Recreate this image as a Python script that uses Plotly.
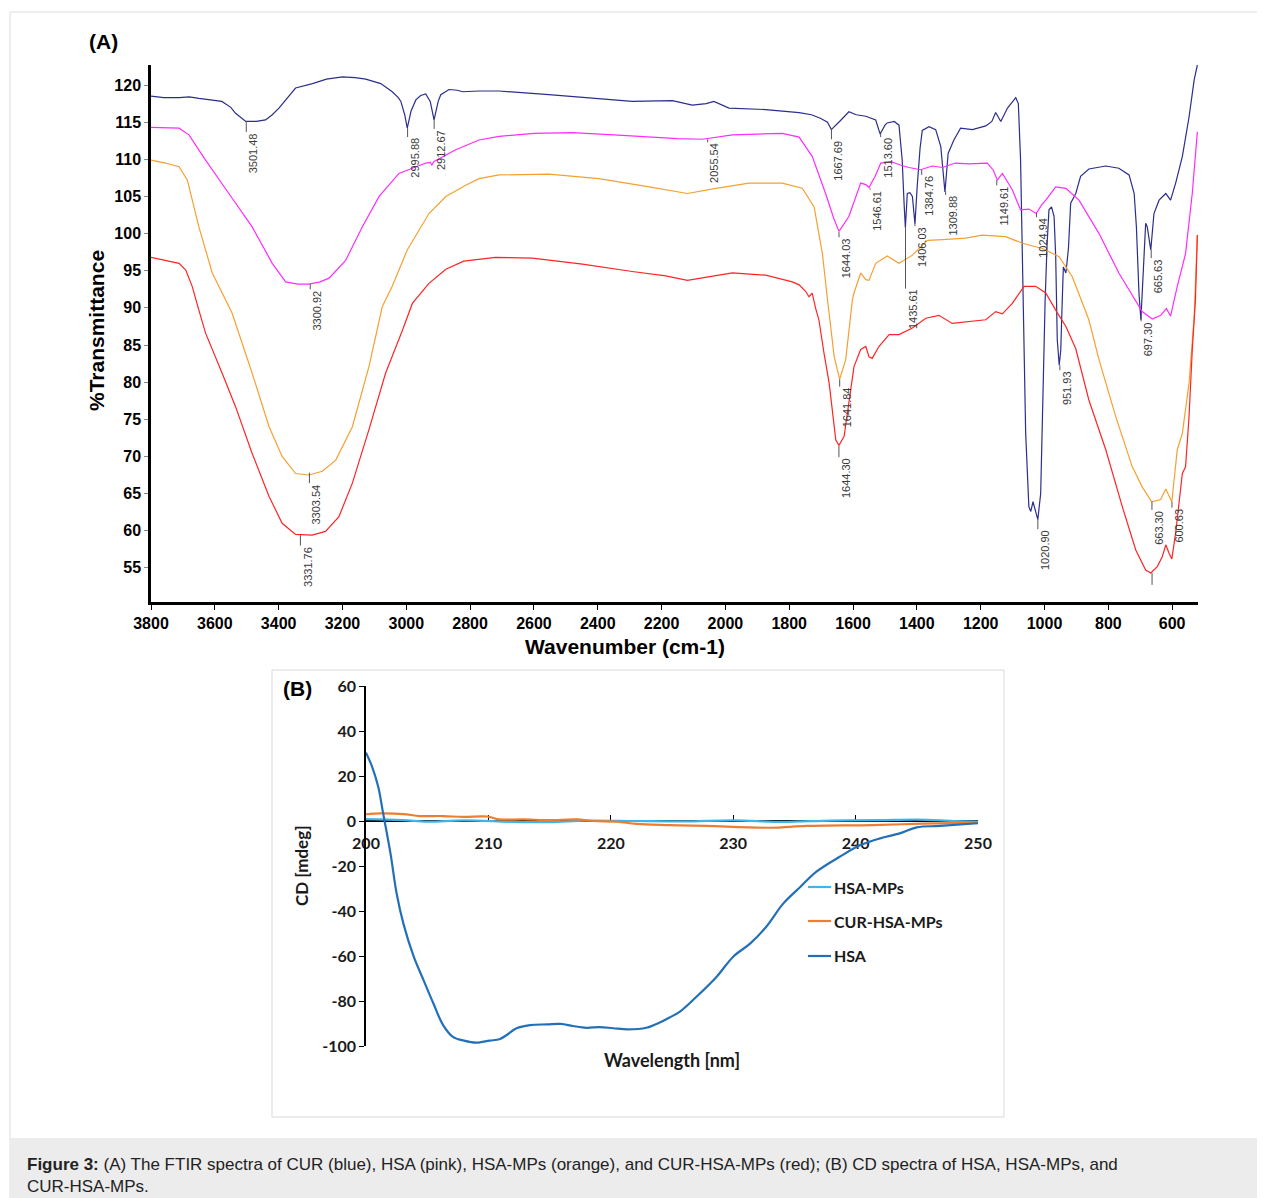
import plotly.graph_objects as go

# ---------------- Panel A : FTIR data ----------------
CUR_WN = [3800, 3760, 3712, 3680, 3650, 3610, 3578, 3550, 3535, 3503, 3470, 3441, 3420, 3399, 3370, 3347,
          3294, 3250, 3200, 3160, 3127, 3080, 3044, 3025, 3017, 3005, 2997, 2985, 2970, 2955, 2939, 2925,
          2913, 2900, 2892, 2866, 2840, 2824, 2772, 2709, 2553, 2396, 2292, 2166, 2104, 2060, 2036, 1989,
          1874, 1769, 1730, 1701, 1680, 1668, 1655, 1640, 1613, 1590, 1560, 1529, 1515, 1500, 1493, 1471,
          1456, 1446, 1440, 1436, 1430, 1422, 1414, 1406, 1399, 1390, 1383, 1362, 1341, 1325, 1312, 1302,
          1284, 1263, 1226, 1184, 1165, 1153, 1137, 1116, 1090, 1082, 1075, 1068, 1059, 1049, 1043, 1036,
          1030, 1021, 1012, 1004, 998, 992, 986, 978, 970, 965, 960, 954, 949, 946, 941, 933, 925, 918,
          902, 887, 861, 808, 767, 735, 719, 712, 704, 698, 691, 683, 678, 667, 657, 641, 620, 605, 589,
          568, 547, 531, 521]
CUR_T = [118.5, 118.3, 118.3, 118.4, 118.2, 118.0, 117.8, 117.0, 116.2, 115.1, 115.1, 115.3, 116.0, 116.9, 118.4, 119.6,
         120.2, 120.8, 121.1, 121.0, 120.8, 120.2, 119.1, 118.3, 117.8, 116.0, 114.2, 116.5, 118.0, 118.6, 118.8, 117.8,
         115.3, 117.8, 118.7, 119.4, 119.3, 119.1, 119.2, 119.2, 118.7, 118.1, 117.8, 117.9, 117.3, 117.5, 117.8, 116.9,
         116.7, 116.3, 116.0, 115.5, 115.0, 114.0, 114.5, 115.2, 116.4, 116.0, 115.8, 115.3, 113.4, 114.6, 114.9, 115.1,
         114.6, 109.9, 104.0, 100.8, 105.4, 105.5, 105.0, 101.3, 106.3, 111.5, 113.9, 114.4, 114.0, 111.7, 105.6, 110.8,
         112.6, 114.2, 114.0, 114.5, 115.1, 116.3, 115.1, 116.9, 118.3, 117.5, 109.9, 95.0, 73.1, 63.2, 62.6, 63.9,
         62.8, 61.5, 65.0, 82.1, 91.1, 98.5, 103.2, 103.6, 102.3, 97.0, 85.7, 82.3, 84.3, 88.8, 95.5, 94.7, 98.0, 104.1,
         105.4, 107.7, 108.7, 109.1, 108.8, 107.9, 105.4, 100.9, 92.0, 88.4, 95.5, 101.4, 100.9, 97.8, 102.7, 104.5, 105.4, 104.5, 106.8,
         110.4, 115.7, 120.7, 122.7]

HSA_WN = [3800, 3712, 3681, 3629, 3556, 3483, 3420, 3378, 3340, 3305, 3270, 3242, 3190, 3138, 3085, 3023,
          2981, 2939, 2925, 2920, 2913, 2876, 2845, 2772, 2709, 2600, 2480, 2350, 2239, 2150, 2072, 2030,
          1978, 1900, 1822, 1769, 1728, 1686, 1660, 1644, 1625, 1613, 1576, 1560, 1550, 1530, 1513, 1482,
          1450, 1425, 1388, 1352, 1320, 1279, 1237, 1179, 1160, 1148, 1132, 1101, 1075, 1060, 1049, 1026,
          1010, 996, 965, 933, 892, 829, 767, 694, 662, 636, 618, 605, 584, 558, 537, 521]
HSA_T = [114.3, 114.2, 113.3, 109.9, 105.4, 100.9, 96.0, 93.5, 93.2, 93.2, 93.5, 94.0, 96.4, 100.9, 105.0, 108.1,
         108.8, 109.5, 109.6, 109.2, 109.7, 110.6, 111.3, 112.6, 113.1, 113.5, 113.6, 113.3, 113.0, 112.8, 112.7, 113.0,
         113.3, 113.4, 113.5, 113.0, 110.4, 105.4, 102.0, 100.3, 101.5, 102.3, 106.8, 106.6, 106.2, 107.8, 109.5, 109.7,
         109.2, 108.9, 108.6, 109.1, 108.9, 109.5, 109.4, 109.5, 108.5, 107.2, 108.1, 105.9, 103.2, 103.2, 103.3, 102.7,
         103.8, 104.5, 106.3, 106.1, 104.5, 100.0, 94.7, 89.5, 88.5, 89.0, 89.9, 88.9, 92.9, 97.3, 105.4, 113.7]

HSAMP_WN = [3800, 3754, 3712, 3686, 3650, 3608, 3546, 3483, 3430, 3389, 3347, 3305, 3263, 3221, 3169, 3117,
            3075, 3044, 2997, 2929, 2876, 2814, 2772, 2709, 2553, 2396, 2239, 2119, 2030, 1926, 1822, 1759,
            1722, 1696, 1680, 1659, 1642, 1623, 1602, 1597, 1576, 1560, 1550, 1529, 1493, 1456, 1414, 1367,
            1320, 1247, 1195, 1122, 1069, 1007, 954, 913, 861, 829, 777, 725, 694, 664, 636, 620, 601, 584,
            568, 547, 531, 521]
HSAMP_T = [109.9, 109.5, 109.0, 107.2, 100.9, 94.7, 89.3, 81.2, 74.0, 70.0, 67.7, 67.5, 68.0, 69.5, 74.0, 82.1,
           90.2, 92.9, 97.8, 102.7, 105.0, 106.5, 107.4, 107.9, 108.0, 107.4, 106.3, 105.4, 106.1, 106.8, 106.8, 106.1,
           103.6, 97.3, 91.1, 83.4, 80.4, 83.0, 91.1, 92.0, 94.7, 93.8, 93.7, 96.0, 97.0, 96.0, 97.1, 99.1,
           99.2, 99.4, 99.8, 99.6, 98.7, 98.0, 96.9, 94.2, 88.4, 83.0, 75.4, 68.6, 65.9, 63.9, 64.2, 65.6, 63.9, 70.9,
           73.1, 79.9, 88.8, 99.8]

CURHSAMP_WN = [3800, 3754, 3712, 3691, 3671, 3650, 3629, 3577, 3535, 3483, 3430, 3389, 3347, 3295, 3253, 3211,
               3169, 3117, 3065, 3012, 2981, 2929, 2876, 2820, 2720, 2605, 2448, 2292, 2187, 2119, 2041, 1978,
               1874, 1790, 1769, 1748, 1738, 1728, 1717, 1707, 1691, 1675, 1654, 1644, 1628, 1613, 1597, 1576,
               1560, 1550, 1540, 1519, 1487, 1456, 1414, 1372, 1331, 1289, 1247, 1184, 1153, 1132, 1101, 1064,
               1028, 996, 965, 933, 902, 861, 808, 756, 714, 683, 667, 646, 631, 620, 610, 601, 589, 568, 558,
               547, 537, 527, 521]
CURHSAMP_T = [96.8, 96.4, 96.0, 95.1, 92.9, 89.7, 86.6, 81.2, 76.7, 70.4, 64.6, 61.0, 59.5, 59.4, 59.9, 61.9,
              66.4, 73.6, 81.2, 87.0, 90.6, 93.3, 95.2, 96.3, 96.8, 96.7, 95.9, 94.9, 94.3, 93.7, 94.2, 94.7,
              94.4, 93.5, 93.1, 92.2, 91.5, 92.0, 89.9, 88.4, 83.9, 79.9, 72.2, 71.5, 72.7, 77.6, 82.1, 84.4,
              84.8, 83.4, 83.2, 84.8, 86.4, 86.4, 87.3, 88.6, 89.0, 87.9, 88.1, 88.4, 89.5, 89.2, 90.6, 92.9,
              92.9, 92.0, 89.7, 87.5, 84.5, 77.6, 70.9, 63.2, 57.4, 54.7, 54.3, 55.2, 56.5, 58.1, 57.0, 56.2, 59.7, 67.7, 68.6,
              75.4, 84.3, 91.1, 99.8]

# peak labels: text, leader top (on curve), leader bottom (label start)
PEAK_LABELS = ["3501.48", "2995.88", "2912.67", "3300.92", "3303.54", "3331.76", "2055.54", "1667.69",
               "1644.03", "1513.60", "1546.61", "1435.61", "1406.03", "1384.76", "1309.88", "1149.61",
               "1024.94", "951.93", "1020.90", "697.30", "665.63", "1641.84", "1644.30", "663.30", "600.63"]
PEAK_TOP = [115.15, 114.2, 115.3, 93.2, 67.8, 59.4, 112.7, 114.1,
            100.2, 113.4, 106.1, 100.8, 101.3, 108.6, 105.7, 107.2,
            102.8, 82.3, 61.5, 88.9, 97.8, 80.4, 71.4, 63.9, 63.9]
PEAK_BOTTOM = [113.67, 113.0, 114.1, 92.5, 66.4, 58.0, 112.3, 112.7,
               99.5, 113.0, 105.9, 92.6, 101.0, 107.9, 105.2, 106.5,
               102.2, 81.6, 60.2, 88.2, 96.7, 79.4, 69.9, 62.8, 63.1]
# leader without visible label (red minimum)
EXTRA_LEADER_WN = [663.0]
EXTRA_LEADER_TOP = [54.3]
EXTRA_LEADER_BOTTOM = [52.7]

A_XTICKS = [3800, 3600, 3400, 3200, 3000, 2800, 2600, 2400, 2200, 2000, 1800, 1600, 1400, 1200, 1000, 800, 600]
A_YTICKS = [55, 60, 65, 70, 75, 80, 85, 90, 95, 100, 105, 110, 115, 120]

# ---------------- Panel B : CD data ----------------
CD_HSA_WL = [200, 200.5, 201.0, 201.4, 202.0, 202.5, 203.05, 203.9, 204.7, 205.5, 206.3, 207.1, 208.0, 209.0,
             210.1, 210.9, 211.5, 212.3, 213.4, 214.8, 215.9, 216.9, 218.0, 219.1, 220.2, 221.4, 222.9, 224.0,
             224.8, 225.65, 227.0, 228.65, 230.0, 231.4, 232.7, 234.1, 235.5, 236.8, 238.7, 240.4, 242.0, 243.6,
             245.0, 246.9, 250]
CD_HSA = [30.4, 24.1, 15.2, 3.4, -14.4, -32.1, -45.5, -60.3, -70.7, -81.0, -90.7, -95.9, -97.6, -98.5,
          -97.6, -97.0, -95.1, -92.1, -90.7, -90.4, -90.2, -91.1, -91.9, -91.6, -92.1, -92.6, -91.9, -89.6,
          -87.3, -84.7, -78.1, -69.2, -60.3, -54.4, -47.0, -36.6, -29.2, -22.5, -15.9, -10.7, -7.7, -5.5,
          -2.8, -2.2, -1.0]
CD_CUR_WL = [200, 201.2, 203.05, 204.4, 206.3, 207.95, 209.9, 210.9, 212.85, 215.0, 217.2, 218.6, 220.5, 222.1,
             224.8, 227.8, 233.0, 236.0, 241.4, 245.5, 250]
CD_CUR = [3.0, 3.4, 3.1, 2.2, 2.2, 1.8, 2.0, 0.7, 0.7, 0.4, 0.7, 0.0, -0.3, -1.3,
          -1.8, -2.2, -3.0, -2.2, -1.8, -1.2, -0.7]
CD_MP_WL = [200, 203, 205, 208, 212, 215, 218, 222, 226, 230, 234, 238, 242, 245, 248, 250]
CD_MP = [0.8, 0.4, -0.3, 0.3, -0.4, -0.5, 0.2, 0.0, -0.2, 0.3, -0.4, 0.2, 0.4, 0.6, 0.0, -0.3]

B_XTICKS = [200, 210, 220, 230, 240, 250]
B_YTICKS = [60, 40, 20, 0, -20, -40, -60, -80, -100]
B_YTICKTEXT = ["60", "40", "20", "0", "-20", "-40", "-60", "-80", "-100"]
LEGEND_NAMES = ["HSA-MPs", "CUR-HSA-MPs", "HSA"]

# ---------------- layout helpers (screen pixel -> paper) ----------------
# the page body has an 8 px margin, so the figure starts 8 px in from the window corner
OFF = 8
W, H = 1265 - OFF, 1198 - OFF
def fx(px):
    return (px - OFF) / W
def fy(py):
    return 1 - (py - OFF) / H

C_CUR, C_HSA, C_HSAMP, C_CURHSAMP = "#2B2E8C", "#FF2BFF", "#F5A030", "#FF2424"
C_B_MP, C_B_CUR, C_B_HSA = "#3DB5EA", "#ED7D31", "#2370B8"

fig = go.Figure()
for wn, t, c in [(CUR_WN, CUR_T, C_CUR), (HSA_WN, HSA_T, C_HSA),
                 (HSAMP_WN, HSAMP_T, C_HSAMP), (CURHSAMP_WN, CURHSAMP_T, C_CURHSAMP)]:
    fig.add_trace(go.Scatter(x=wn, y=t, mode="lines", line=dict(color=c, width=1.2),
                             xaxis="x", yaxis="y", showlegend=False, hoverinfo="skip"))

for wl, v, c in [(CD_MP_WL, CD_MP, C_B_MP), (CD_CUR_WL, CD_CUR, C_B_CUR), (CD_HSA_WL, CD_HSA, C_B_HSA)]:
    fig.add_trace(go.Scatter(x=wl, y=v, mode="lines", line=dict(color=c, width=2.2, shape="spline"),
                             xaxis="x2", yaxis="y2", showlegend=False))

shapes = []
annotations = []

# peak leaders and labels
for lab, top, bot in zip(PEAK_LABELS, PEAK_TOP, PEAK_BOTTOM):
    wn = float(lab)
    shapes.append(dict(type="line", xref="x", yref="y", x0=wn, x1=wn, y0=top, y1=bot,
                       line=dict(color="#555555", width=1)))
    annotations.append(dict(x=wn, y=bot, xref="x", yref="y", text=lab, textangle=-90, showarrow=False,
                            xanchor="center", yanchor="top", xshift=7, borderpad=0,
                            font=dict(family="Liberation Sans", size=11, color="#3a3a3a")))
for wn, top, bot in zip(EXTRA_LEADER_WN, EXTRA_LEADER_TOP, EXTRA_LEADER_BOTTOM):
    shapes.append(dict(type="line", xref="x", yref="y", x0=wn, x1=wn, y0=top, y1=bot,
                       line=dict(color="#555555", width=1)))

# figure frame and caption band
shapes.append(dict(type="rect", xref="paper", yref="paper", x0=fx(10), x1=fx(1270), y0=fy(1205), y1=fy(12),
                   line=dict(color="#dcdcdc", width=1), layer="below"))
shapes.append(dict(type="rect", xref="paper", yref="paper", x0=fx(10), x1=fx(1270), y0=fy(1205), y1=fy(1138),
                   line=dict(width=0), fillcolor="#ececec", layer="below"))
# panel B frame
shapes.append(dict(type="rect", xref="paper", yref="paper", x0=fx(272), x1=fx(1004), y0=fy(1117), y1=fy(670),
                   line=dict(color="#d9d9d9", width=1), layer="below"))

# panel B legend (manual)
leg_y = [887, 921, 956]
for name, c, py in zip(LEGEND_NAMES, [C_B_MP, C_B_CUR, C_B_HSA], leg_y):
    shapes.append(dict(type="line", xref="paper", yref="paper", x0=fx(808), x1=fx(831), y0=fy(py), y1=fy(py),
                       line=dict(color=c, width=2.2)))
    annotations.append(dict(x=fx(832), y=fy(py), xref="paper", yref="paper", text=name, showarrow=False,
                            xanchor="left", yanchor="middle",
                            font=dict(family="Lato", size=16, color="#1a1a1a", weight="bold")))

def label(px, py, text, size, family="Liberation Sans", angle=0, color="black"):
    return dict(x=fx(px), y=fy(py), xref="paper", yref="paper", text=text, textangle=angle, showarrow=False,
                xanchor="center", yanchor="middle",
                font=dict(family=family, size=size, color=color, weight="bold"))

annotations += [
    label(103, 41, "(A)", 21),
    label(97, 331, "%Transmittance", 21, angle=-90),
    label(625, 646, "Wavenumber (cm-1)", 21),
    label(297, 688, "(B)", 21),
    label(301, 866, "CD [mdeg]", 17, family="Lato", angle=-90, color="#1a1a1a"),
    label(672, 1060, "Wavelength [nm]", 18, family="Lato", color="#1a1a1a"),
    dict(x=fx(25), y=fy(1175), xref="paper", yref="paper", xanchor="left", yanchor="middle", align="left",
         showarrow=False,
         text="<b>Figure 3:</b> (A) The FTIR spectra of CUR (blue), HSA (pink), HSA-MPs (orange), and "
              "CUR-HSA-MPs (red); (B) CD spectra of HSA, HSA-MPs, and<br>CUR-HSA-MPs.",
         font=dict(family="Liberation Sans", size=17, color="#222222")),
]

tickA = dict(family="Liberation Sans", size=16, color="black", weight="bold")
tickB = dict(family="Lato", size=16, color="#1a1a1a", weight="bold")

fig.update_layout(
    width=W, height=H, margin=dict(l=0, r=0, t=0, b=0, autoexpand=False),
    paper_bgcolor="white", plot_bgcolor="rgba(0,0,0,0)",
    shapes=shapes, annotations=annotations,
    xaxis=dict(domain=[fx(151), fx(1198)], range=[3800, 519], tickvals=A_XTICKS, automargin=False,
               showline=True, linecolor="black", linewidth=2.5, ticks="outside", ticklen=5,
               tickcolor="black", tickfont=tickA, showgrid=False, zeroline=False, anchor="y"),
    yaxis=dict(domain=[fy(602), fy(65)], range=[50.4, 122.7], tickvals=A_YTICKS, automargin=False,
               showline=True, linecolor="black", linewidth=2.5, ticks="outside", ticklen=4,
               tickcolor="#888888", tickfont=tickA, showgrid=False, zeroline=False, anchor="x"),
    xaxis2=dict(domain=[fx(366), fx(978)], range=[200, 250], tickvals=B_XTICKS, automargin=False,
                showline=True, linecolor="black", linewidth=1.5, ticks="inside", ticklen=5,
                tickcolor="black", tickfont=tickB, showgrid=False, zeroline=False,
                anchor="free", position=fy(821), layer="below traces", ticklabelstandoff=8),
    yaxis2=dict(domain=[fy(1046), fy(686)], range=[-100, 60], tickvals=B_YTICKS, ticktext=B_YTICKTEXT,
                automargin=False,
                showline=True, linecolor="black", linewidth=1.5, ticks="outside", ticklen=5,
                tickcolor="black", tickfont=tickB, showgrid=False, zeroline=False, anchor="x2"),
)

fig.write_html("out.html")
